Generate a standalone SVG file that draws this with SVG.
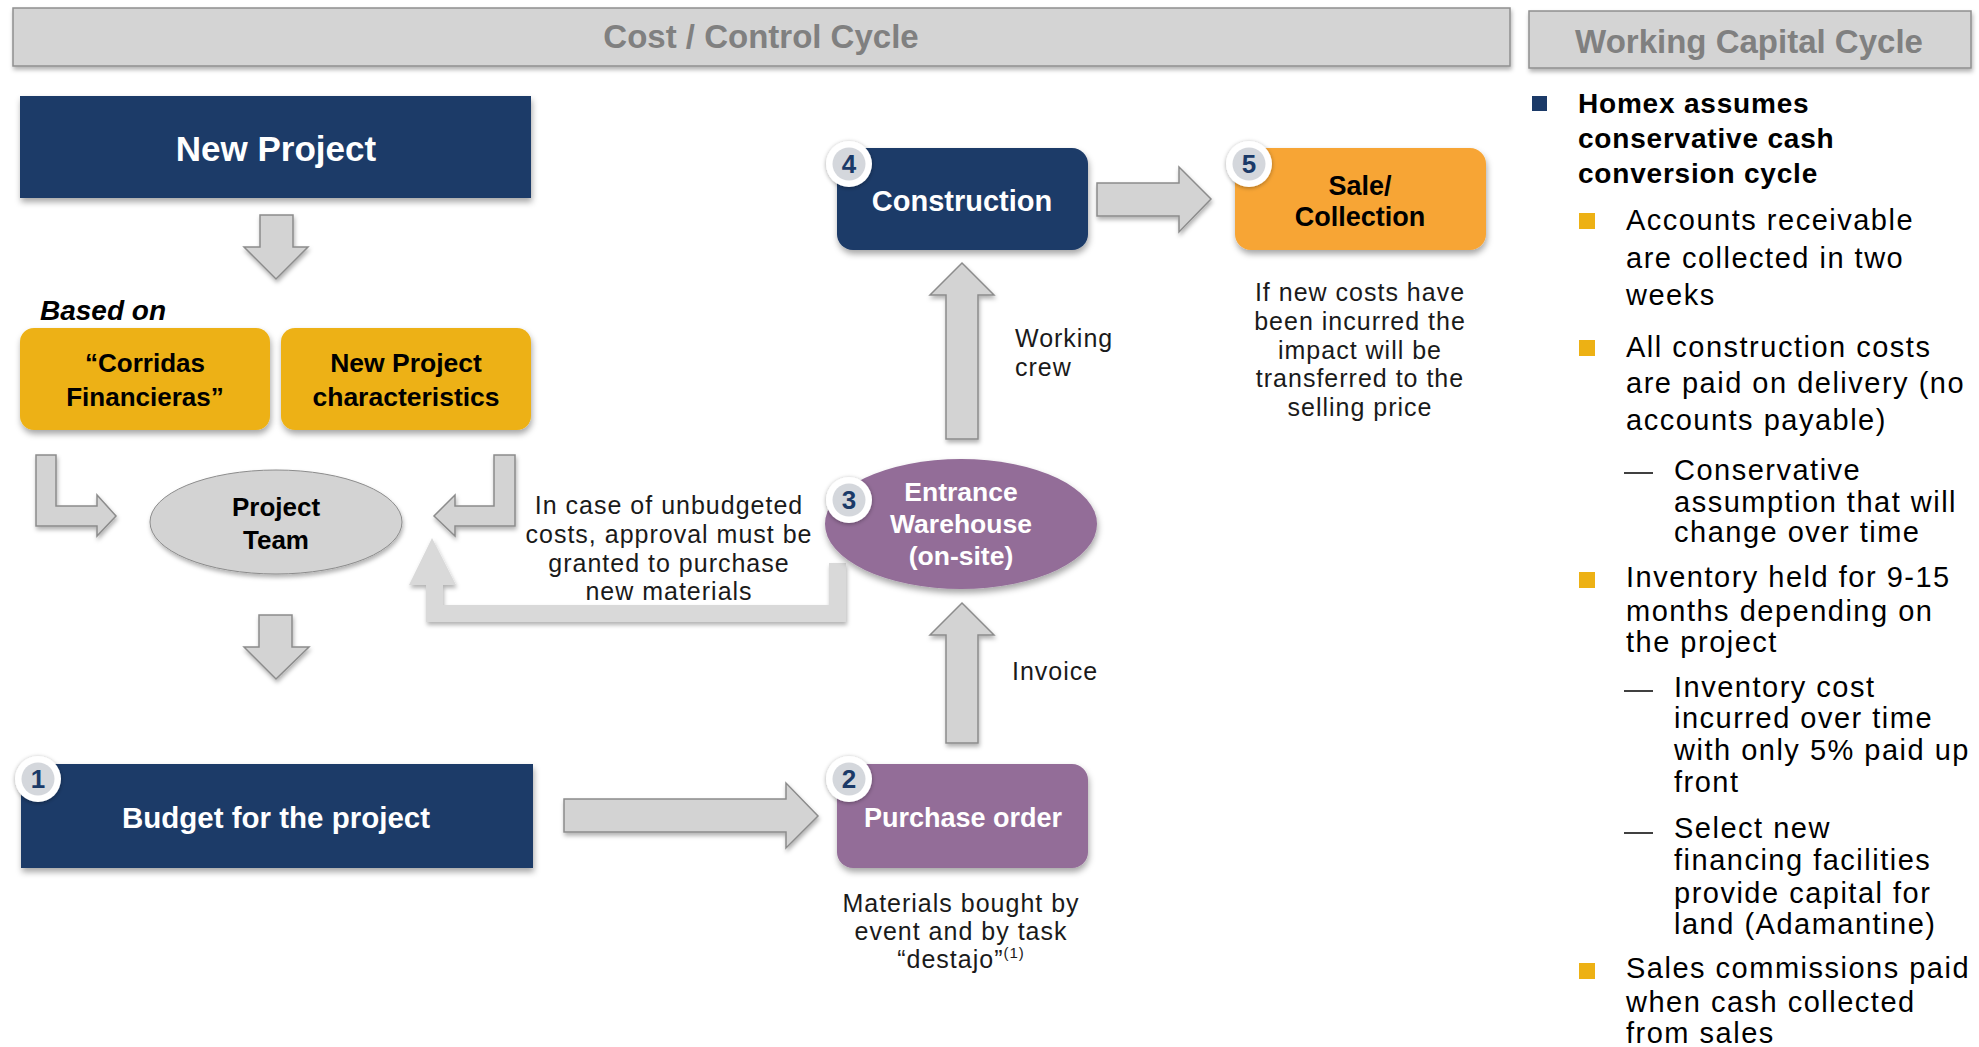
<svg xmlns="http://www.w3.org/2000/svg" width="1979" height="1047" viewBox="0 0 1979 1047">
<defs>
<filter id="sh" x="-10%" y="-10%" width="130%" height="140%"><feDropShadow dx="1" dy="4" stdDeviation="3" flood-color="#000" flood-opacity="0.35"/></filter>
<filter id="sh2" x="-10%" y="-10%" width="130%" height="140%"><feDropShadow dx="1" dy="3" stdDeviation="2" flood-color="#000" flood-opacity="0.3"/></filter>
<filter id="sh3" x="-40%" y="-40%" width="180%" height="180%"><feDropShadow dx="0" dy="1" stdDeviation="2" flood-color="#000" flood-opacity="0.35"/></filter>
<style>
.hdr{fill:#d4d4d4;stroke:#8f8f8f;stroke-width:1.5}
.hdrt{font-family:"Liberation Sans",Arial,sans-serif;font-weight:bold;font-size:33px;fill:#808080;text-anchor:middle}
.navy{fill:#1b3a68}
.yel{fill:#edb114}
.org{fill:#f7a535}
.pur{fill:#936d98}
.gry{fill:#d3d3d3;stroke:#8c8c8c;stroke-width:1}
.arr{fill:#d3d3d3;stroke:#8c8c8c;stroke-width:1.5;stroke-linejoin:miter}
.nt{font-family:"Liberation Sans",Arial,sans-serif;font-weight:bold;text-anchor:middle}
.w{fill:#fff}
.k{fill:#000}
.sm{font-family:"Liberation Sans",Arial,sans-serif;font-size:25px;letter-spacing:1px;fill:#1a1a1a;text-anchor:middle}
.sml{font-family:"Liberation Sans",Arial,sans-serif;font-size:25px;letter-spacing:1px;fill:#1a1a1a}
.bo{fill:#fff}
.bi{fill:#d4d7dc}
.bn{font-family:"Liberation Sans",Arial,sans-serif;font-weight:bold;font-size:26px;fill:#1b3a68;text-anchor:middle}
.rp{font-family:"Liberation Sans",Arial,sans-serif;font-size:29px;letter-spacing:1.5px;fill:#000}
.rpb{font-family:"Liberation Sans",Arial,sans-serif;font-size:28px;font-weight:bold;letter-spacing:0.8px;fill:#000}
.dash{stroke:#000;stroke-width:1.5}
</style>
</defs>
<rect width="1979" height="1047" fill="#fff"/>

<g id="header-cost">
<rect class="hdr" x="13" y="8" width="1497" height="58" filter="url(#sh2)"/>
<text class="hdrt" x="761" y="48">Cost / Control Cycle</text>
</g>
<g id="header-wc">
<rect class="hdr" x="1529" y="11" width="442" height="57" filter="url(#sh2)"/>
<text class="hdrt" x="1749" y="53">Working Capital Cycle</text>
</g>

<g id="connectors">
<polygon class="arr" points="260,215 293,215 293,247 308,247 276,279 244,247 260,247" filter="url(#sh2)"/>
<polygon class="arr" points="36,455 56,455 56,506 97,506 97,495 116,516 97,536 97,526 36,526" filter="url(#sh2)"/>
<polygon class="arr" points="494,455 515,455 515,526 455,526 455,536 434,516 455,495 455,506 494,506" filter="url(#sh2)"/>
<polygon class="arr" points="259,615 292,615 292,647 309,647 276,679 244,647 259,647" filter="url(#sh2)"/>
<polygon points="829,563 846,563 846,622 426,622 426,585 409,585 432,538 456,585 443,585 443,605 829,605" fill="#d9d9d9" filter="url(#sh2)"/>
<polygon class="arr" points="564,799 786,799 786,783 818,816 786,848 786,832 564,832" filter="url(#sh2)"/>
<polygon class="arr" points="946,743 946,635 930,635 962,603 994,635 978,635 978,743" filter="url(#sh2)"/>
<polygon class="arr" points="946,439 946,295 930,295 962,263 994,295 978,295 978,439" filter="url(#sh2)"/>
<polygon class="arr" points="1097,183 1179,183 1179,167 1211,199 1179,232 1179,216 1097,216" filter="url(#sh2)"/>
</g>

<g id="node-new-project">
<rect class="navy" x="20" y="96" width="511" height="102" filter="url(#sh)"/>
<text class="nt w" x="276" y="161" font-size="35">New Project</text>
</g>

<text id="based-on" x="40" y="320" font-family="'Liberation Sans',Arial,sans-serif" font-size="28" font-weight="bold" font-style="italic" fill="#000">Based on</text>

<g id="node-corridas">
<rect class="yel" x="20" y="328" width="250" height="102" rx="14" filter="url(#sh)"/>
<text class="nt k" x="145" y="372" font-size="26">“Corridas</text>
<text class="nt k" x="145" y="406" font-size="26">Financieras”</text>
</g>
<g id="node-characteristics">
<rect class="yel" x="281" y="328" width="250" height="102" rx="14" filter="url(#sh)"/>
<text class="nt k" x="406" y="372" font-size="26.5">New Project</text>
<text class="nt k" x="406" y="406" font-size="26.5">characteristics</text>
</g>

<g id="node-project-team">
<ellipse class="gry" cx="276" cy="522" rx="126" ry="52" filter="url(#sh2)"/>
<text class="nt k" x="276" y="516" font-size="26">Project</text>
<text class="nt k" x="276" y="549" font-size="26">Team</text>
</g>

<g id="label-unbudgeted">
<text class="sm" x="669" y="514">In case of unbudgeted</text>
<text class="sm" x="669" y="543">costs, approval must be</text>
<text class="sm" x="669" y="572">granted to purchase</text>
<text class="sm" x="669" y="600">new materials</text>
</g>

<g id="node-budget">
<rect class="navy" x="21" y="764" width="512" height="104" filter="url(#sh)"/>
<text class="nt w" x="276" y="828" font-size="29.5">Budget for the project</text>
<circle class="bo" cx="38" cy="779" r="23" filter="url(#sh3)"/>
<circle class="bi" cx="38" cy="779" r="16.5"/>
<text class="bn" x="38" y="788">1</text>
</g>

<g id="node-purchase">
<rect class="pur" x="837" y="764" width="251" height="104" rx="16" filter="url(#sh)"/>
<text class="nt w" x="963" y="827" font-size="27">Purchase order</text>
<circle class="bo" cx="849" cy="779" r="23" filter="url(#sh3)"/>
<circle class="bi" cx="849" cy="779" r="16.5"/>
<text class="bn" x="849" y="788">2</text>
</g>
<g id="label-materials">
<text class="sm" x="961" y="912">Materials bought by</text>
<text class="sm" x="961" y="940">event and by task</text>
<text class="sm" x="961" y="968">“destajo”<tspan font-size="15" dy="-10">(1)</tspan></text>
</g>

<g id="node-warehouse">
<ellipse class="pur" cx="961" cy="524" rx="136" ry="65" filter="url(#sh)"/>
<text class="nt w" x="961" y="501" font-size="26.5">Entrance</text>
<text class="nt w" x="961" y="533" font-size="26.5">Warehouse</text>
<text class="nt w" x="961" y="565" font-size="26.5">(on-site)</text>
<circle class="bo" cx="849" cy="500" r="23" filter="url(#sh3)"/>
<circle class="bi" cx="849" cy="500" r="16.5"/>
<text class="bn" x="849" y="509">3</text>
</g>
<text class="sml" x="1012" y="680">Invoice</text>
<text class="sml" x="1015" y="347">Working</text>
<text class="sml" x="1015" y="376">crew</text>

<g id="node-construction">
<rect class="navy" x="837" y="148" width="251" height="102" rx="16" filter="url(#sh)"/>
<text class="nt w" x="962" y="211" font-size="29">Construction</text>
<circle class="bo" cx="849" cy="164" r="23" filter="url(#sh3)"/>
<circle class="bi" cx="849" cy="164" r="16.5"/>
<text class="bn" x="849" y="173">4</text>
</g>

<g id="node-sale">
<rect class="org" x="1235" y="148" width="251" height="102" rx="16" filter="url(#sh)"/>
<text class="nt k" x="1360" y="195" font-size="27">Sale/</text>
<text class="nt k" x="1360" y="226" font-size="27">Collection</text>
<circle class="bo" cx="1249" cy="164" r="23" filter="url(#sh3)"/>
<circle class="bi" cx="1249" cy="164" r="16.5"/>
<text class="bn" x="1249" y="173">5</text>
</g>
<g id="label-newcosts">
<text class="sm" x="1360" y="301">If new costs have</text>
<text class="sm" x="1360" y="330">been incurred the</text>
<text class="sm" x="1360" y="359">impact will be</text>
<text class="sm" x="1360" y="387">transferred to the</text>
<text class="sm" x="1360" y="416">selling price</text>
</g>

<g id="working-capital-text">
<rect x="1532" y="96" width="15" height="15" fill="#1b3a68"/>
<text class="rpb" x="1578" y="113">Homex assumes</text>
<text class="rpb" x="1578" y="148">conservative cash</text>
<text class="rpb" x="1578" y="183">conversion cycle</text>

<rect x="1579" y="213" width="16" height="16" fill="#edb114"/>
<text class="rp" x="1626" y="230">Accounts receivable</text>
<text class="rp" x="1626" y="268">are collected in two</text>
<text class="rp" x="1626" y="305">weeks</text>

<rect x="1579" y="340" width="16" height="16" fill="#edb114"/>
<text class="rp" x="1626" y="357">All construction costs</text>
<text class="rp" x="1626" y="393">are paid on delivery (no</text>
<text class="rp" x="1626" y="430">accounts payable)</text>

<line class="dash" x1="1624" y1="473" x2="1653" y2="473"/>
<text class="rp" x="1674" y="480">Conservative</text>
<text class="rp" x="1674" y="512">assumption that will</text>
<text class="rp" x="1674" y="542">change over time</text>

<rect x="1579" y="572" width="16" height="16" fill="#edb114"/>
<text class="rp" x="1626" y="587">Inventory held for 9-15</text>
<text class="rp" x="1626" y="621">months depending on</text>
<text class="rp" x="1626" y="652">the project</text>

<line class="dash" x1="1624" y1="691" x2="1653" y2="691"/>
<text class="rp" x="1674" y="697">Inventory cost</text>
<text class="rp" x="1674" y="728">incurred over time</text>
<text class="rp" x="1674" y="760">with only 5% paid up</text>
<text class="rp" x="1674" y="792">front</text>

<line class="dash" x1="1624" y1="833" x2="1653" y2="833"/>
<text class="rp" x="1674" y="838">Select new</text>
<text class="rp" x="1674" y="870">financing facilities</text>
<text class="rp" x="1674" y="903">provide capital for</text>
<text class="rp" x="1674" y="934">land (Adamantine)</text>

<rect x="1579" y="963" width="16" height="16" fill="#edb114"/>
<text class="rp" x="1626" y="978">Sales commissions paid</text>
<text class="rp" x="1626" y="1012">when cash collected</text>
<text class="rp" x="1626" y="1043">from sales</text>
</g>
</svg>
